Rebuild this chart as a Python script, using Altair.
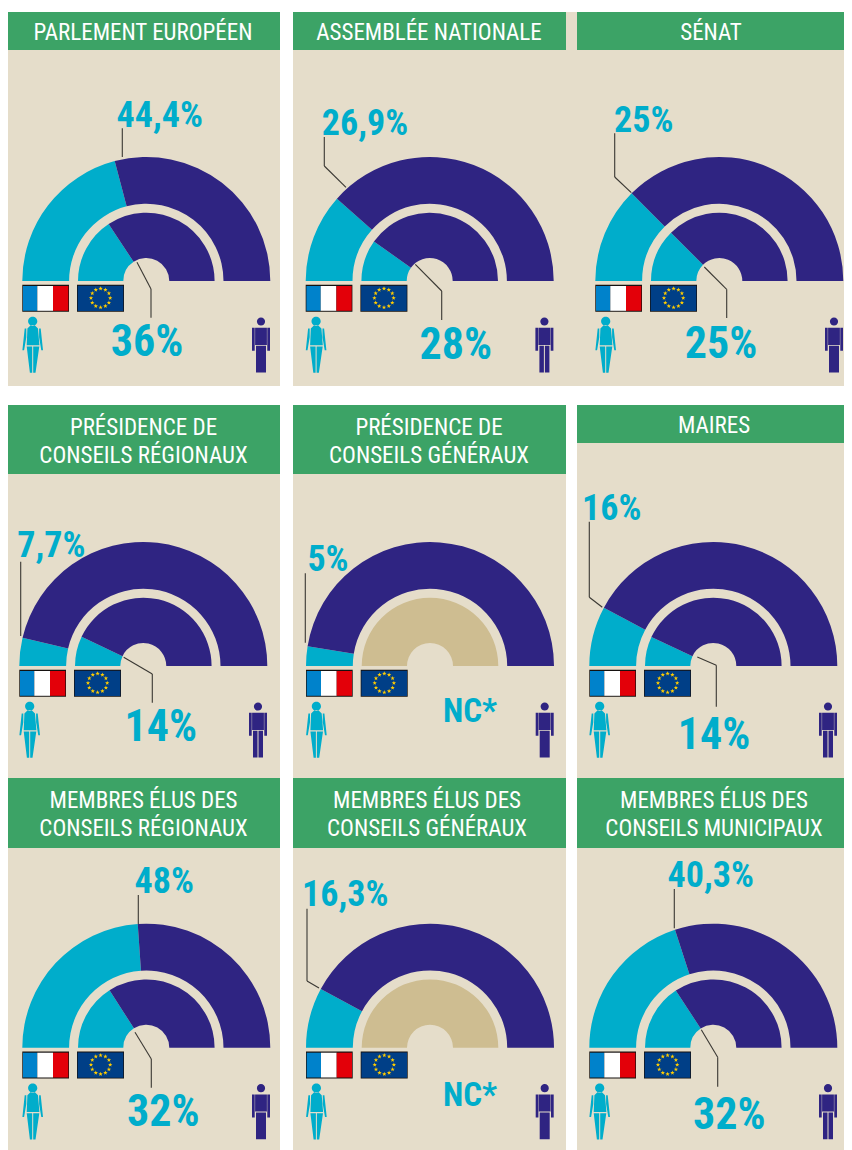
import math
import altair as alt
import pandas as pd

# ---- values ----
lines_title = [
    ["PARLEMENT EUROPÉEN"], ["ASSEMBLÉE NATIONALE"], ["SÉNAT"],
    ["PRÉSIDENCE DE", "CONSEILS RÉGIONAUX"], ["PRÉSIDENCE DE", "CONSEILS GÉNÉRAUX"], ["MAIRES"],
    ["MEMBRES ÉLUS DES", "CONSEILS RÉGIONAUX"], ["MEMBRES ÉLUS DES", "CONSEILS GÉNÉRAUX"],
    ["MEMBRES ÉLUS DES", "CONSEILS MUNICIPAUX"],
]
label_fr = ["44,4%", "26,9%", "25%", "7,7%", "5%", "16%", "48%", "16,3%", "40,3%"]
label_eu = ["36%", "28%", "25%", "14%", "NC*", "14%", "32%", "NC*", "32%"]
# share of the half ring drawn in the women's colour, as measured on the picture
drawn_fr = [0.418, 0.231, 0.25, 0.073, 0.051, 0.156, 0.478, 0.157, 0.40]
drawn_eu = [0.314, 0.196, 0.25, 0.141, None, 0.139, 0.319, None, 0.315]

# ---- layout (picture pixels) ----
FONT = "Roboto Condensed, Roboto, sans-serif"
WOMEN, MEN, NC = "#00ADCB", "#2F2482", "#CEBD91"
BG, GREEN, LEAD = "#E5DDCA", "#3CA366", "#3A3833"
centers = [(146.3, 281), (433.7, 281), (727.3, 281),
           (143.3, 666), (434, 666), (721.3, 666),
           (146.3, 1047.7), (434, 1047.7), (721.3, 1047.7)]
bg_boxes = [(7, 280, 12, 386), (297, 570, 12, 386), (570, 585, 12, 386), (585, 852, 12, 386),
            (7, 280, 405, 778), (297, 570, 405, 778), (585, 852, 405, 778),
            (7, 280, 778, 1150), (297, 570, 778, 1150), (585, 852, 778, 1150)]
head_boxes = [(7, 280, 12, 50), (297, 570, 12, 50), (585, 852, 12, 50),
              (7, 280, 405, 474), (297, 570, 405, 474), (585, 852, 405, 443),
              (7, 280, 778, 848), (297, 570, 778, 848), (585, 852, 778, 848)]
title_x = [143, 433, 719, 143.5, 433, 722, 143.5, 431, 722]
title_y = [[39.5], [39.5], [39.5], [434.5, 463], [434.5, 463], [432.5],
           [807.5, 836], [807.5, 836], [807.5, 836]]
fr_pos = [(159.7, 126.7), (369, 135), (651.8, 131.7), (51.3, 556.7), (332, 570.7),
          (619.7, 520), (164.2, 892.7), (349.3, 906), (718.7, 887.3)]
eu_pos = [(147, 356), (459.7, 359.3), (729, 357.7), (160.7, 740.7), (474, 721.7),
          (722, 749.3), (163.3, 1126), (474, 1106), (737.2, 1129.3)]
leaders = [
    [(122.3, 128.3), (122.3, 157)],
    [(137, 262.3), (151, 289), (151, 317.7)],
    [(328.3, 137), (328.3, 166), (350, 187.3)],
    [(419.3, 264.3), (445.7, 291), (445.7, 320)],
    [(622.7, 133.3), (622.7, 177), (639.3, 192.7)],
    [(712.3, 267), (734.7, 289.3), (734.7, 318)],
    [(20.7, 561.7), (20.7, 636)],
    [(123.7, 657.3), (152.3, 674), (152.3, 702.7)],
    [(309.3, 573.3), (309.3, 642.7)],
    [(597.3, 521.7), (597.3, 597.3), (610.3, 607.3)],
    [(705.3, 657), (724.3, 665.3), (724.3, 706.7)],
    [(138.3, 895), (138.3, 924)],
    [(135, 1032.3), (151.3, 1059), (151.3, 1087.7)],
    [(311, 908.7), (311, 981), (323, 988)],
    [(682.3, 889), (682.3, 928.3)],
    [(709.3, 1029.7), (725.7, 1057.3), (725.7, 1086.7)],
]
man_split = [False, True, False, True, False, True, False, False, True]

HEAD = "M-{r},0 a{r},{r} 0 1,0 {d},0 a{r},{r} 0 1,0 -{d},0 Z "
WOMAN = (HEAD.format(r=4.6, d=9.2) +
         "M-2,4 L2,4 L5.3,7.3 L6.7,24 L-6,24 L-5.3,7.3 Z "
         "M-6.4,7.3 L-8,7.3 L-10.3,29 L-8.6,29 L-6.4,16 Z "
         "M6.4,7.3 L8,7.3 L10.3,29 L8.6,29 L6.4,16 Z "
         "M-6,25.2 L-0.5,25.2 L-0.5,51.5 L-2.8,51.5 Z "
         "M6.6,25.2 L0.5,25.2 L0.5,51.5 L2.8,51.5 Z")
MAN_TOP = (HEAD.format(r=4.1, d=8.2) +
           "M-9,6.3 L-6.3,6.3 L-6.3,29.3 L-9,29.3 Z "
           "M6.3,6.3 L9,6.3 L9,29.3 L6.3,29.3 Z "
           "M-5.9,6.3 L5.9,6.3 L5.9,23.4 L-5.9,23.4 Z ")
MAN_A = MAN_TOP + "M-5,24.3 L5,24.3 L5,51 L-5,51 Z"
MAN_B = MAN_TOP + "M-5,24.3 L-0.5,24.3 L-0.5,51 L-5,51 Z M0.5,24.3 L5,24.3 L5,51 L0.5,51 Z"
STAR = "M" + " L".join(
    "{:.2f},{:.2f}".format((2.3 if k % 2 == 0 else 0.95) * math.sin(math.radians(36 * k)),
                           -(2.3 if k % 2 == 0 else 0.95) * math.cos(math.radians(36 * k)))
    for k in range(10)) + " Z"

# ---- tables ----
rects, arcs, stars, icons, rules, texts = [], [], [], [], [], []


def box(b, c):
    rects.append(dict(x=b[0], x2=b[1], y=b[2], y2=b[3], c=c, o=len(rects)))


for b in bg_boxes:
    box(b, BG)
for b in head_boxes:
    box(b, GREEN)

OUTER, INNER = (77.2, 124), (23, 68.3)
for i, (cx, cy) in enumerate(centers):
    for (r2, r), share in ((OUTER, drawn_fr[i]), (INNER, drawn_eu[i])):
        if share is None:
            arcs.append(dict(x=cx, y=cy, t=-math.pi / 2, t2=math.pi / 2, r=r, r2=r2, c=NC))
        else:
            cut = -math.pi / 2 + math.pi * share
            arcs.append(dict(x=cx, y=cy, t=-math.pi / 2, t2=cut, r=r, r2=r2, c=WOMEN))
            arcs.append(dict(x=cx, y=cy, t=cut, t2=math.pi / 2, r=r, r2=r2, c=MEN))
    # French flag
    box((cx - 124, cx - 77.3, cy + 3.8, cy + 30.8), "#14110F")
    box((cx - 123.3, cx - 109, cy + 5, cy + 29.8), "#0082CB")
    box((cx - 109, cx - 93.3, cy + 5, cy + 29.8), "#FFFFFF")
    box((cx - 93.3, cx - 78, cy + 5, cy + 29.8), "#E30009")
    # EU flag
    box((cx - 69.3, cx - 22.3, cy + 3.8, cy + 30.8), "#14110F")
    box((cx - 68.6, cx - 23, cy + 4.8, cy + 30), "#003F87")
    for k in range(12):
        a = math.radians(30 * k)
        stars.append(dict(x=cx - 45.7 + 9.6 * math.sin(a), y=cy + 17 - 9.4 * math.cos(a)))
    # pictograms
    icons.append(dict(x=cx - 113.6, y=cy + 40.3, s=WOMAN, c=WOMEN))
    icons.append(dict(x=cx + 114.7, y=cy + 40.5, s=MAN_B if man_split[i] else MAN_A, c=MEN))
    # texts
    for line, ty in zip(lines_title[i], title_y[i]):
        texts.append(dict(x=title_x[i], y=ty, t=line, c="#FFFFFF", fs=23, w="normal"))
    big = label_eu[i] != "NC*"
    texts.append(dict(x=fr_pos[i][0], y=fr_pos[i][1], t=label_fr[i], c=WOMEN, fs=36, w="bold"))
    texts.append(dict(x=eu_pos[i][0], y=eu_pos[i][1], t=label_eu[i], c=WOMEN, fs=44 if big else 33, w="bold"))

for path in leaders:
    for a, b in zip(path, path[1:]):
        rules.append(dict(x=a[0], y=a[1], x2=b[0], y2=b[1]))

# ---- chart ----
# The page only gives 836 px of width: the columns keep their size, the gutters give way.
sx = alt.Scale(domain=[8, 280, 297, 570, 585, 852], range=[0, 272, 285, 558, 569, 836], nice=False, zero=False)
sy = alt.Scale(domain=[8, 1150], range=[0, 1142], nice=False, zero=False)
X = alt.X("x:Q", scale=sx, axis=None)
Y = alt.Y("y:Q", scale=sy, axis=None)
C = alt.Color("c:N", scale=None, legend=None)

rect_layer = alt.Chart(pd.DataFrame(rects)).mark_rect(strokeWidth=0).encode(
    x=X, x2="x2:Q", y=Y, y2="y2:Q", color=C, order=alt.Order("o:Q"))
arc_layer = alt.Chart(pd.DataFrame(arcs)).mark_arc().encode(
    x=X, y=Y, theta=alt.Theta("t:Q", scale=None), theta2="t2:Q",
    radius=alt.Radius("r:Q", scale=None), radius2="r2:Q", color=C)
star_layer = alt.Chart(pd.DataFrame(stars)).mark_point(
    shape=STAR, filled=True, size=4, color="#FFCC00", opacity=1, strokeWidth=0).encode(x=X, y=Y)
icon_layer = alt.Chart(pd.DataFrame(icons)).mark_point(
    filled=True, size=4, opacity=1, strokeWidth=0).encode(
    x=X, y=Y, shape=alt.Shape("s:N", scale=None, legend=None), color=C)
rule_layer = alt.Chart(pd.DataFrame(rules)).mark_rule(color=LEAD, strokeWidth=1.1).encode(
    x=X, y=Y, x2="x2:Q", y2="y2:Q")
text_norm = alt.Chart(pd.DataFrame([t for t in texts if t["w"] == "normal"])).mark_text(
    font=FONT, align="center", baseline="alphabetic").encode(
    x=X, y=Y, text="t:N", color=C, size=alt.Size("fs:Q", scale=None, legend=None))
text_bold = alt.Chart(pd.DataFrame([t for t in texts if t["w"] == "bold"])).mark_text(
    font=FONT, fontWeight="bold", align="center", baseline="alphabetic").encode(
    x=X, y=Y, text="t:N", color=C, size=alt.Size("fs:Q", scale=None, legend=None))

chart = alt.layer(rect_layer, arc_layer, star_layer, icon_layer, rule_layer, text_norm, text_bold).properties(
    width=836, height=1142, padding=0, background="white",
    autosize=alt.AutoSizeParams(type="none")
).configure_view(stroke=None)

chart.save("out.html", embed_options={"renderer": "svg", "actions": False})
